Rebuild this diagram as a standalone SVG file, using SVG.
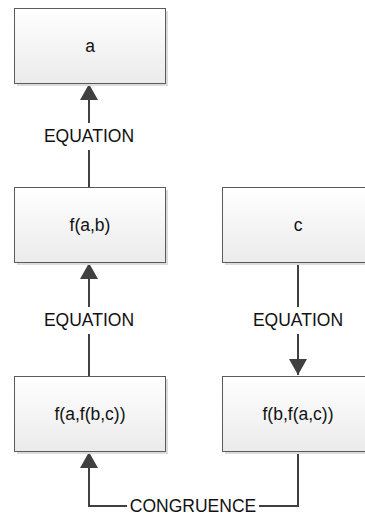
<svg xmlns="http://www.w3.org/2000/svg" width="365" height="518" viewBox="0 0 365 518">
<defs>
<linearGradient id="g" x1="0" y1="0" x2="0" y2="1">
<stop offset="0" stop-color="#ffffff"/>
<stop offset="1" stop-color="#ebebeb"/>
</linearGradient>
<marker id="ah" viewBox="0 0 16 18" refX="16" refY="9" markerWidth="16" markerHeight="18" markerUnits="userSpaceOnUse" orient="auto">
<path d="M0,0 L16,9 L0,18 Z" fill="#404040"/>
</marker>
</defs>
<style>
.shadow{fill:#dcdcdc;}
.box{fill:url(#g);stroke:#5a5a5a;stroke-width:1;}
.t{font-family:"Liberation Sans",Arial,sans-serif;font-size:17.5px;fill:#111;text-anchor:middle;dominant-baseline:central;}
.c{fill:none;stroke:#404040;stroke-width:2;}
</style>
<rect width="365" height="518" fill="#ffffff"/>
<g id="connectors">
<line class="c" x1="89" y1="376" x2="89" y2="334"/>
<line class="c" x1="89" y1="307" x2="89" y2="263" marker-end="url(#ah)"/>
<text class="t" x="89" y="320">EQUATION</text>
<line class="c" x1="89" y1="187" x2="89" y2="150"/>
<line class="c" x1="89" y1="123" x2="89" y2="84" marker-end="url(#ah)"/>
<text class="t" x="89" y="136">EQUATION</text>
<line class="c" x1="298" y1="262" x2="298" y2="307"/>
<line class="c" x1="298" y1="334" x2="298" y2="375" marker-end="url(#ah)"/>
<text class="t" x="298" y="320">EQUATION</text>
<polyline class="c" points="298,451 298,506 259,506"/>
<polyline class="c" points="127,506 89,506 89,452" marker-end="url(#ah)"/>
<text class="t" x="193" y="506">CONGRUENCE</text>
</g>
<g id="a">
<rect class="shadow" x="17" y="11" width="151" height="75"/>
<rect class="box" x="14.5" y="8.5" width="151" height="75"/>
<text class="t" x="90" y="46">a</text>
</g>
<g id="fab">
<rect class="shadow" x="17" y="190" width="151" height="75"/>
<rect class="box" x="14.5" y="187.5" width="151" height="75"/>
<text class="t" x="90" y="225">f(a,b)</text>
</g>
<g id="c">
<rect class="shadow" x="225" y="190" width="151" height="75"/>
<rect class="box" x="222.5" y="187.5" width="151" height="75"/>
<text class="t" x="298" y="225">c</text>
</g>
<g id="fafbc">
<rect class="shadow" x="17" y="379" width="151" height="75"/>
<rect class="box" x="14.5" y="376.5" width="151" height="75"/>
<text class="t" x="90" y="414">f(a,f(b,c))</text>
</g>
<g id="fbfac">
<rect class="shadow" x="225" y="379" width="151" height="75"/>
<rect class="box" x="222.5" y="376.5" width="151" height="75"/>
<text class="t" x="298" y="414">f(b,f(a,c))</text>
</g>
</svg>
